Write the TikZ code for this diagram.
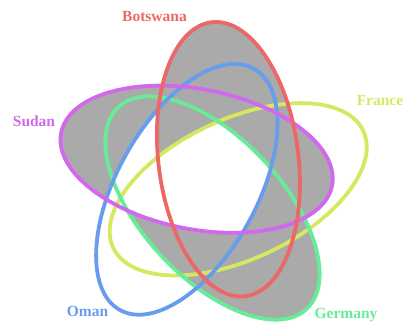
\documentclass[tikz,border=0pt]{standalone}
\usepackage{fontspec}
\setmainfont{Liberation Serif}
\definecolor{cB}{RGB}{236,104,104}
\definecolor{cS}{RGB}{210,104,236}
\definecolor{cO}{RGB}{104,156,236}
\definecolor{cG}{RGB}{104,236,152}
\definecolor{cF}{RGB}{214,232,96}
\definecolor{fillgray}{RGB}{170,170,170}
\def\ellB{(228.4,-159.2) ellipse [x radius=138pt, y radius=70pt, rotate=97]}
\def\ellS{(196.6,-159.2) ellipse [x radius=138pt, y radius=70pt, rotate=169]}
\def\ellO{(186.8,-189.3) ellipse [x radius=138pt, y radius=70pt, rotate=241]}
\def\ellG{(212.5,-208.0) ellipse [x radius=138pt, y radius=70pt, rotate=313]}
\def\ellF{(238.2,-189.3) ellipse [x radius=138pt, y radius=70pt, rotate=25]}
\def\bigbox{(-100,-500) -- (600,-500) -- (600,100) -- (-100,100) -- cycle}
\newcommand\reg[5]{\begin{scope}[even odd rule]
 \ifnum#1=1 \clip\ellB;\else\clip\bigbox\ellB;\fi
 \ifnum#2=1 \clip\ellS;\else\clip\bigbox\ellS;\fi
 \ifnum#3=1 \clip\ellO;\else\clip\bigbox\ellO;\fi
 \ifnum#4=1 \clip\ellG;\else\clip\bigbox\ellG;\fi
 \ifnum#5=1 \clip\ellF;\else\clip\bigbox\ellF;\fi
 \fill[fillgray] (-10,10) rectangle (416,-334);
\end{scope}}
\begin{document}
\begin{tikzpicture}[x=1pt,y=1pt,
  lab/.style={font=\fontsize{15.5}{18}\selectfont\bfseries, anchor=base, inner sep=0pt},
  ring/.style={line width=3.8pt}]
\useasboundingbox (0,0) rectangle (406,-324);
% shaded regions (B S O G F)
\reg10000 \reg01000 \reg00010
\reg10010 \reg10100 \reg11000 \reg10001 \reg01010
\reg11100 \reg11010 \reg11001 \reg10011 \reg00111
\reg11110 \reg11101 \reg11011 \reg10111
\reg01001 \reg00011 \reg01011 \reg10110 \reg10101 \reg00110
% outlines
\draw[ring, cF] \ellF;
\draw[ring, cG] \ellG;
\draw[ring, cO] \ellO;
\draw[ring, cS] \ellS;
\draw[ring, cB] \ellB;
% labels
\node[lab, text=cB] (lB) at (154.5,-21) {Botswana};
\node[lab, text=cS] (lS) at (34,-126.5) {Sudan};
\node[lab, text=cF] (lF) at (380,-105) {France};
\node[lab, text=cO] (lO) at (87.5,-316.5) {Oman};
\node[lab, text=cG] (lG) at (346,-318) {Germany};
\end{tikzpicture}
\end{document}
